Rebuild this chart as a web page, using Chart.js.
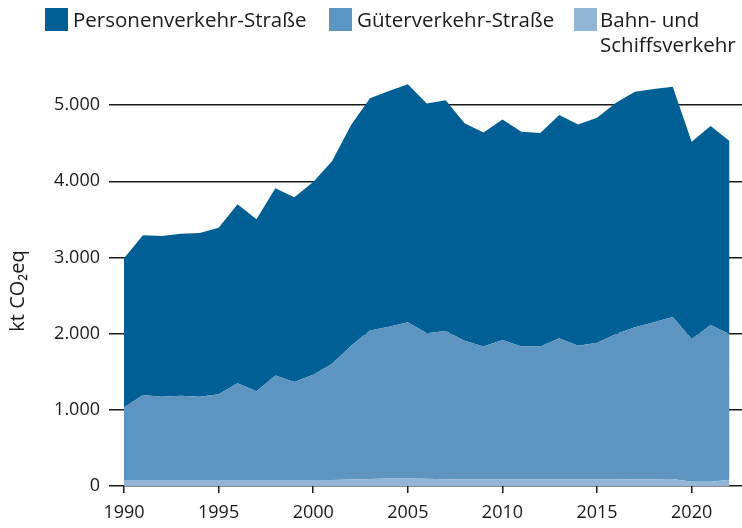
<!DOCTYPE html>
<html>
<head>
<meta charset="utf-8">
<script src="https://cdn.jsdelivr.net/npm/chart.js@4"></script>
<style>
  body { margin: 0; background: #fff; font-family: 'Open Sans', sans-serif; color: #1a1a1a; }
  #wrap { position: relative; width: 742px; height: 528px; }
  #chart { position: absolute; left: 0; top: 0; }
  .item { position: absolute; top: 8px; font-size: 20.5px; line-height: 25px; }
  .box { position: absolute; left: 0; top: 0; width: 23px; height: 23px; }
  .label { position: absolute; top: -1px; white-space: nowrap; }
</style>
</head>
<body>
<div id="wrap">
  <canvas id="chart" width="742" height="528"></canvas>
  <div class="item" style="left:45px"><div class="box" style="background:#005f95"></div><div class="label" style="left:28px">Personenverkehr-Straße</div></div>
  <div class="item" style="left:329px"><div class="box" style="background:#5d94c0"></div><div class="label" style="left:28px">Güterverkehr-Straße</div></div>
  <div class="item" style="left:574px"><div class="box" style="background:#94b6d6"></div><div class="label" style="left:26px">Bahn- und<br>Schiffsverkehr</div></div>
</div>
<script>
const years = [1990, 1991, 1992, 1993, 1994, 1995, 1996, 1997, 1998, 1999,
  2000, 2001, 2002, 2003, 2004, 2005, 2006, 2007, 2008, 2009,
  2010, 2011, 2012, 2013, 2014, 2015, 2016, 2017, 2018, 2019,
  2020, 2021, 2022];

const bahnSchiff = [78, 78, 78, 78, 78, 78, 78, 78, 78, 78,
  78, 78, 85, 92, 98, 100, 95, 88, 86, 85,
  85, 85, 84, 84, 84, 84, 86, 88, 90, 92,
  55, 55, 82];

const gueterStrasse = [952, 1117, 1092, 1107, 1092, 1127, 1272, 1167, 1372, 1287,
  1382, 1527, 1755, 1948, 1992, 2050, 1910, 1947, 1819, 1745,
  1830, 1745, 1746, 1856, 1756, 1796, 1909, 1997, 2060, 2128,
  1875, 2060, 1913];

const personenStrasse = [1960, 2095, 2110, 2125, 2150, 2185, 2350, 2255, 2460, 2425,
  2530, 2660, 2900, 3050, 3095, 3125, 3015, 3030, 2855, 2810,
  2895, 2820, 2805, 2930, 2905, 2955, 3035, 3090, 3060, 3020,
  2590, 2610, 2535];

const yTicks = [0, 1000, 2000, 3000, 4000, 5000];
const xTicks = [1990, 1995, 2000, 2005, 2010, 2015, 2020];
const yTitle = 'kt CO₂eq';

function points(values) {
    return years.map((y, i) => ({ x: y, y: values[i] }));
}

function formatDe(v) {
    return String(v).replace(/\B(?=(\d{3})+(?!\d))/g, '.');
}

const font = { family: "'Open Sans', sans-serif", size: 18 };
const lineColor = '#1a1a1a';

// y title drawn by hand, it sits a bit below the axis middle in the original
const yTitlePlugin = {
    id: 'yTitle',
    afterDraw(chart) {
        const c = chart.ctx;
        c.save();
        c.translate(18, 291);
        c.rotate(-Math.PI / 2);
        c.font = "20px 'Open Sans', sans-serif";
        c.fillStyle = lineColor;
        c.textAlign = 'center';
        c.textBaseline = 'middle';
        c.fillText(yTitle, 0, 0);
        c.restore();
    }
};

const ctx = document.getElementById('chart').getContext('2d');
new Chart(ctx, {
    type: 'line',
    data: {
        datasets: [
            { label: 'Bahn- und Schiffsverkehr', data: points(bahnSchiff), backgroundColor: '#94b6d6', fill: 'origin' },
            { label: 'Güterverkehr-Straße', data: points(gueterStrasse), backgroundColor: '#5d94c0', fill: '-1' },
            { label: 'Personenverkehr-Straße', data: points(personenStrasse), backgroundColor: '#005f95', fill: '-1' }
        ].map(d => Object.assign(d, { borderWidth: 0, pointRadius: 0, tension: 0 }))
    },
    options: {
        responsive: false,
        animation: false,
        layout: { padding: { top: 67, right: 0, left: 0, bottom: 0 } },
        plugins: { legend: { display: false }, tooltip: { enabled: false } },
        scales: {
            x: {
                type: 'linear',
                min: 1990,
                max: 2022.66,
                afterBuildTicks: axis => { axis.ticks = xTicks.map(v => ({ value: v })); },
                afterFit: scale => { scale.height = 42; },
                ticks: { color: lineColor, font: font, padding: 9, maxRotation: 0, callback: v => String(v) },
                grid: { drawOnChartArea: false, drawTicks: true, tickLength: 7, color: lineColor, lineWidth: 1.5 },
                border: { display: false }
            },
            y: {
                stacked: true,
                min: 0,
                max: 5500,
                afterBuildTicks: axis => { axis.ticks = yTicks.map(v => ({ value: v })); },
                afterFit: scale => { scale.width = 124; },
                ticks: { color: lineColor, font: font, padding: 9, callback: v => formatDe(v) },
                grid: { drawTicks: true, tickLength: 15, color: lineColor, lineWidth: 1.5 },
                border: { display: false }
            }
        }
    },
    plugins: [yTitlePlugin]
});
</script>
</body>
</html>
